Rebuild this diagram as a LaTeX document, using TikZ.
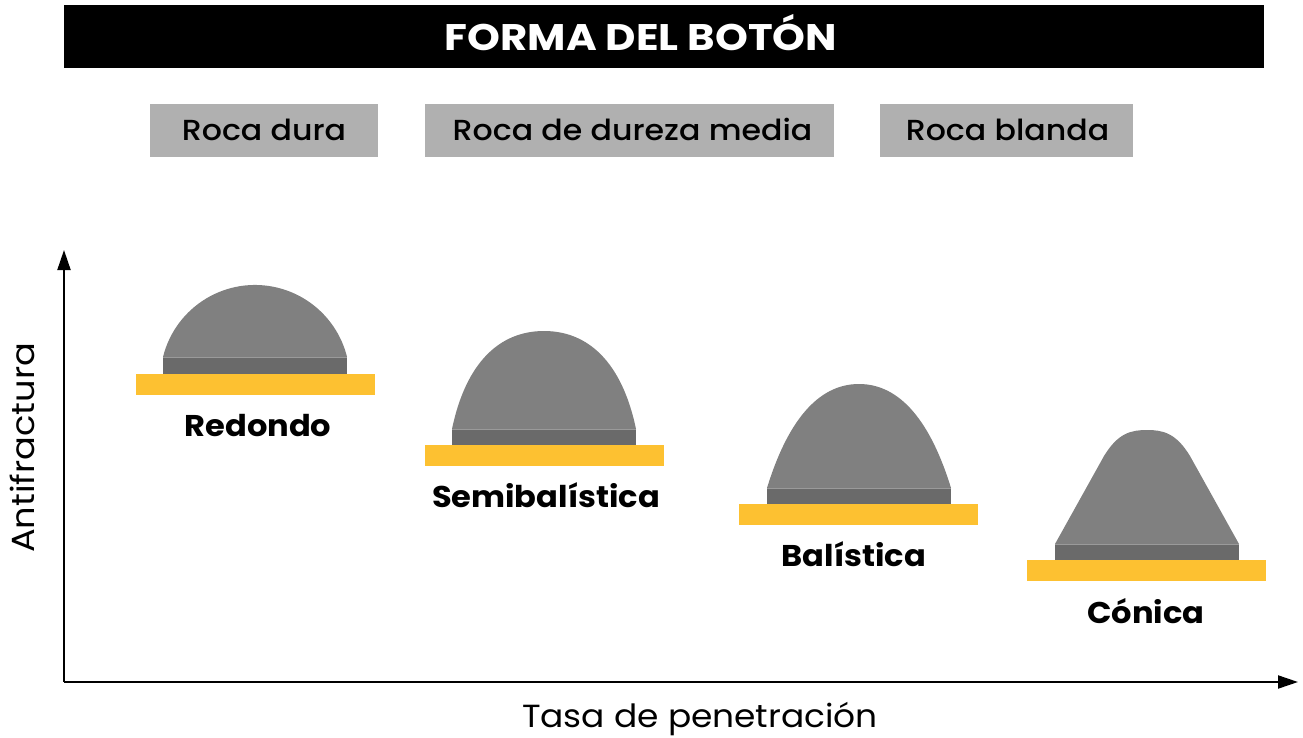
\documentclass[tikz,border=0pt]{standalone}
\usepackage{fontspec}
\setmainfont{Poppins}
\newfontfamily\medfont{Poppins Medium}
\usetikzlibrary{arrows.meta}
\definecolor{domegray}{HTML}{808080}
\definecolor{bandgray}{HTML}{6A6A6A}
\definecolor{edgegray}{HTML}{9A9A9A}
\definecolor{boxgray}{HTML}{B0B0B0}
\definecolor{gold}{HTML}{FDC131}
\tikzset{
  titlebar/.style={fill=black, inner sep=0, anchor=north west},
  rockbox/.style={fill=boxgray, inner sep=0, anchor=north west, minimum height=53pt},
  rocktext/.style={anchor=base, inner sep=0, xscale=1.09, font=\fontsize{29}{30}\selectfont\medfont},
  shapelbl/.style={anchor=base, inner sep=0, xscale=1.07, font=\fontsize{30}{32}\selectfont\bfseries},
  axisfont/.style={anchor=base, inner sep=0, font=\fontsize{32}{34}\selectfont},
  dome/.style={fill=domegray},
  band/.style={fill=bandgray, inner sep=0, anchor=north west, minimum width=184pt, minimum height=17pt},
  edge/.style={draw=edgegray, line width=0.8pt},
  goldbar/.style={fill=gold, inner sep=0, anchor=north west, minimum width=239pt, minimum height=21pt},
  axis/.style={line width=2pt, -{Triangle[length=20pt,width=13pt]}}
}
\begin{document}
\begin{tikzpicture}[x=1pt,y=-1pt]
\useasboundingbox (0,0) rectangle (1303,738);
% title
\node[titlebar, minimum width=1200pt, minimum height=63pt] (bar) at (64,5) {};
\node[anchor=base, inner sep=0, text=white, xscale=1.13, font=\fontsize{37}{40}\selectfont\bfseries] (title) at (641,51) {FORMA DEL BOTÓN};
% rock boxes
\node[rockbox, minimum width=228pt] (b1) at (150,104) {};
\node[rockbox, minimum width=409pt] (b2) at (425,104) {};
\node[rockbox, minimum width=253pt] (b3) at (880,104) {};
\node[rocktext] (t1) at (264,141) {Roca dura};
\node[rocktext] (t2) at (632.5,141) {Roca de dureza media};
\node[rocktext] (t3) at (1007.5,141) {Roca blanda};
% axes
\coordinate (O) at (64,682);
\coordinate (ytip) at (64,250);
\coordinate (xtip) at (1298,682);
\draw[axis] (O) -- (ytip);
\draw[axis] (O) -- (xtip);
\node[axisfont, rotate=90, xscale=1.1] (ylab) at (34,448) {Antifractura};
\node[axisfont, xscale=1.075] (xlab) at (700,727) {Tasa de penetración};
% Redondo
\fill[dome] (163,357) arc[start angle=-166.1, end angle=-13.9, radius=94.8] -- cycle;
\node[band] (band1) at (163,357) {};
\draw[edge] (band1.north west) -- (band1.north east);
\node[goldbar] (gold1) at (136,374) {};
\node[shapelbl] (l1) at (258,436) {Redondo};
% Semibalistica
\fill[dome] (452,429) .. controls (466,362) and (500,331) .. (544,331) .. controls (588,331) and (622,362) .. (636,429) -- cycle;
\node[band] (band2) at (452,429) {};
\draw[edge] (band2.north west) -- (band2.north east);
\node[goldbar] (gold2) at (425,445) {};
\node[shapelbl] (l2) at (546,507) {Semibalística};
% Balistica
\fill[dome] (767,488) .. controls (787,423) and (817,384) .. (859,384) .. controls (901,384) and (931,423) .. (951,488) -- cycle;
\node[band] (band3) at (767,488) {};
\draw[edge] (band3.north west) -- (band3.north east);
\node[goldbar] (gold3) at (739,504) {};
\node[shapelbl] (l3) at (854,566) {Balística};
% Conica
\fill[dome] (1055,544) -- (1104,456) .. controls (1118,433) and (1131,430) .. (1147,430) .. controls (1163,430) and (1176,433) .. (1190,456) -- (1239,544) -- cycle;
\node[band] (band4) at (1055,544) {};
\draw[edge] (band4.north west) -- (band4.north east);
\node[goldbar] (gold4) at (1027,560) {};
\node[shapelbl] (l4) at (1146,623) {Cónica};
\end{tikzpicture}
\end{document}
